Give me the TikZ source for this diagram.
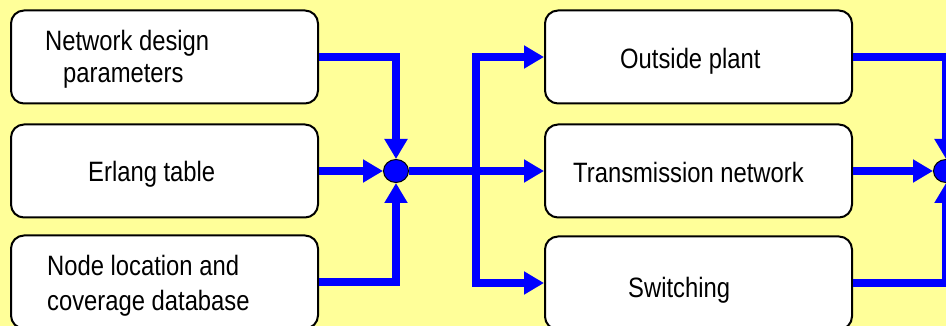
\documentclass[tikz,border=0pt]{standalone}
\usepackage{fontspec}
\setmainfont{Liberation Sans}[FakeStretch=0.85]
\usetikzlibrary{arrows.meta,shapes.geometric}
\definecolor{paper}{HTML}{FFFF99}
\definecolor{flowblue}{HTML}{0000FF}

\begin{document}
\begin{tikzpicture}[x=1pt,y=-1pt,
  box/.style={draw=black, line width=2pt, fill=white, rounded corners=13pt,
    minimum width=307pt, minimum height=93pt, inner sep=0pt},
  lbl/.style={anchor=base west, inner sep=0pt, font=\fontsize{28}{30}\selectfont},
  hub/.style={ellipse, draw=black, line width=1pt, fill=flowblue,
    minimum width=25pt, minimum height=23pt, inner sep=0pt},
  flow/.style={draw=flowblue, line width=8pt, line join=miter,
    -{Triangle[length=20pt,width=22pt]}},
  trunk/.style={draw=flowblue, line width=8pt, line join=miter}]

% canvas
\useasboundingbox (0,0) rectangle (946,326);
\clip (0,0) rectangle (946,326);
\fill[paper] (0,0) rectangle (946,326);

% input boxes
\node[box] (L1) at (164.5,57) {};
\node[box] (L2) at (164.5,171) {};
\node[box] (L3) at (164.5,282) {};

% network component boxes
\node[box] (R1) at (698.5,57) {};
\node[box] (R2) at (698.5,171) {};
\node[box] (R3) at (698.5,283) {};

% box labels
\node[lbl] (t1a) at (45,51) {Network design};
\node[lbl] (t1b) at (63,83) {parameters};
\node[lbl] (t2)  at (88,182) {Erlang table};
\node[lbl] (t3a) at (47,275) {Node location and};
\node[lbl] (t3b) at (47,310) {coverage database};
\node[lbl] (t4)  at (620,69) {Outside plant};
\node[lbl] (t5)  at (573,183) {Transmission network};
\node[lbl] (t6)  at (628,297) {Switching};

% summing junctions
\node[hub] (J1) at (396,171) {};
\node[hub] (J2) at (946,171) {};
\coordinate (split) at (476,171);

% inputs into the first junction
\draw[flow] (L1.east) -| (J1.north);
\draw[flow] (L2.east) -- (J1.west);
\draw[flow] (L3.east) -| (J1.south);

% distribution to the network components
\draw[trunk] (J1.east) -- (split);
\draw[flow] (split) |- (R1.west);
\draw[flow] (split) -- (R2.west);
\draw[flow] (split) |- (R3.west);

% components into the second junction
\draw[flow] (R1.east) -| (J2.north);
\draw[flow] (R2.east) -- (J2.west);
\draw[flow] (R3.east) -| (J2.south);
\end{tikzpicture}
\end{document}
